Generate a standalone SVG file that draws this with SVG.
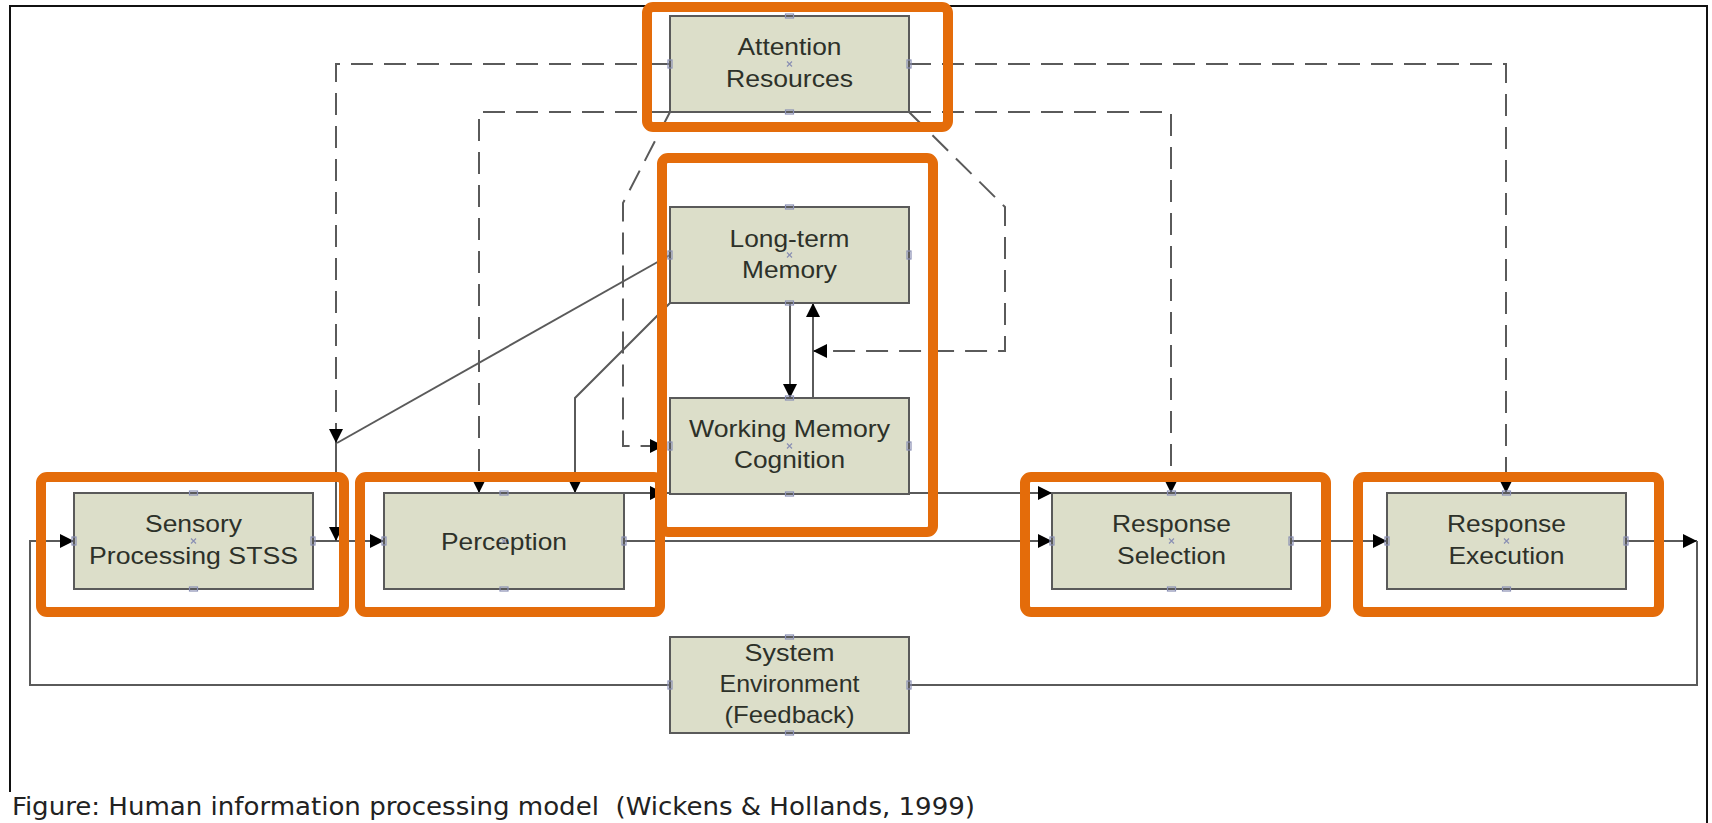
<svg xmlns="http://www.w3.org/2000/svg" width="1712" height="823" viewBox="0 0 1712 823">
<style>
.bg{fill:#ffffff}
.frame{stroke:#111;stroke-width:2;fill:none}
.box{fill:#dcdec9;stroke:#5a5a5a;stroke-width:2}
.lbl{font-family:"Liberation Sans",Arial,sans-serif;font-size:24px;fill:#2d3129;text-anchor:middle}
.solid{fill:none;stroke:#5a5a5a;stroke-width:2}
.dash{fill:none;stroke:#5a5a5a;stroke-width:2;stroke-dasharray:22 11}
.hl{fill:none;stroke:#e46c0a;stroke-width:10}
.pt{stroke:#8a90b4;stroke-width:1.2;fill:none}
.cap{font-family:"DejaVu Sans Condensed","DejaVu Sans",sans-serif;font-size:24px;fill:#222;white-space:pre}
</style>
<defs>
<marker id="arr" markerUnits="userSpaceOnUse" markerWidth="16" markerHeight="14" refX="14" refY="7" orient="auto">
<path d="M0,0 L14,7 L0,14 z" fill="#000"/>
</marker>
<g id="cx"><path class="pt" d="M-2.5,-2.5 L2.5,2.5 M-2.5,2.5 L2.5,-2.5"/></g>
<g id="hp"><rect class="pt" x="-4" y="-2" width="8" height="4"/></g>
<g id="vp"><rect class="pt" x="-2" y="-4" width="4" height="8"/></g>
</defs>
<rect class="bg" x="0" y="0" width="1712" height="823"/>
<path class="frame" d="M10,792 V6 H1707 V823"/>

<g id="connectors">
<path class="solid" d="M1626,541 H1697" marker-end="url(#arr)"/>
<path class="solid" d="M1697,541 V685 H909"/>
<path class="solid" d="M670,685 H30 V541 H74" marker-end="url(#arr)"/>
<path class="solid" d="M313,541 H384" marker-end="url(#arr)"/>
<path class="solid" d="M336,443 V541" marker-end="url(#arr)"/>
<path class="solid" d="M670,255 L337,443"/>
<path class="solid" d="M670,303 L575,398 V493" marker-end="url(#arr)"/>
<path class="solid" d="M624,493 H670"/>
<path class="solid" d="M624,493 H664" marker-end="url(#arr)"/>
<path class="solid" d="M909,493 H1052" marker-end="url(#arr)"/>
<path class="solid" d="M624,541 H1052" marker-end="url(#arr)"/>
<path class="solid" d="M1291,541 H1387" marker-end="url(#arr)"/>
<path class="solid" d="M790,303 V398" marker-end="url(#arr)"/>
<path class="solid" d="M813,398 V303" marker-end="url(#arr)"/>
<path class="dash" d="M670,64 H336 V443" marker-end="url(#arr)"/>
<path class="dash" d="M670,112 H479 V493" marker-end="url(#arr)"/>
<path class="dash" d="M670,112 L623,203 V446 H664" marker-end="url(#arr)"/>
<path class="dash" d="M909,112 L1005,207 V351 H813" marker-end="url(#arr)"/>
<path class="dash" d="M909,112 H1171 V493" marker-end="url(#arr)"/>
<path class="dash" d="M909,64 H1506 V493" marker-end="url(#arr)"/>
</g>

<g id="attention">
<rect class="box" x="670" y="16" width="239" height="96"/>
<text class="lbl" x="789.5" y="55" textLength="104" lengthAdjust="spacingAndGlyphs">Attention</text>
<text class="lbl" x="789.5" y="87" textLength="127" lengthAdjust="spacingAndGlyphs">Resources</text>
<use href="#cx" x="789.5" y="64"/><use href="#hp" x="789.5" y="16"/><use href="#hp" x="789.5" y="112"/><use href="#vp" x="670" y="64"/><use href="#vp" x="909" y="64"/>
</g>

<g id="longterm">
<rect class="box" x="670" y="207" width="239" height="96"/>
<text class="lbl" x="789.5" y="247" textLength="120" lengthAdjust="spacingAndGlyphs">Long-term</text>
<text class="lbl" x="789.5" y="278" textLength="95" lengthAdjust="spacingAndGlyphs">Memory</text>
<use href="#cx" x="789.5" y="255"/><use href="#hp" x="789.5" y="207"/><use href="#hp" x="789.5" y="303"/><use href="#vp" x="670" y="255"/><use href="#vp" x="909" y="255"/>
</g>

<g id="working">
<rect class="box" x="670" y="398" width="239" height="96"/>
<text class="lbl" x="789.5" y="437" textLength="201" lengthAdjust="spacingAndGlyphs">Working Memory</text>
<text class="lbl" x="789.5" y="468" textLength="111" lengthAdjust="spacingAndGlyphs">Cognition</text>
<use href="#cx" x="789.5" y="446"/><use href="#hp" x="789.5" y="398"/><use href="#hp" x="789.5" y="494"/><use href="#vp" x="670" y="446"/><use href="#vp" x="909" y="446"/>
</g>

<g id="sensory">
<rect class="box" x="74" y="493" width="239" height="96"/>
<text class="lbl" x="193.5" y="532" textLength="97" lengthAdjust="spacingAndGlyphs">Sensory</text>
<text class="lbl" x="193.5" y="564" textLength="209" lengthAdjust="spacingAndGlyphs">Processing STSS</text>
<use href="#cx" x="193.5" y="541"/><use href="#hp" x="193.5" y="493"/><use href="#hp" x="193.5" y="589"/><use href="#vp" x="74" y="541"/><use href="#vp" x="313" y="541"/>
</g>

<g id="perception">
<rect class="box" x="384" y="493" width="240" height="96"/>
<text class="lbl" x="504" y="550" textLength="126" lengthAdjust="spacingAndGlyphs">Perception</text>
<use href="#cx" x="504" y="541"/><use href="#hp" x="504" y="493"/><use href="#hp" x="504" y="589"/><use href="#vp" x="384" y="541"/><use href="#vp" x="624" y="541"/>
</g>

<g id="selection">
<rect class="box" x="1052" y="493" width="239" height="96"/>
<text class="lbl" x="1171.5" y="532" textLength="119" lengthAdjust="spacingAndGlyphs">Response</text>
<text class="lbl" x="1171.5" y="564" textLength="109" lengthAdjust="spacingAndGlyphs">Selection</text>
<use href="#cx" x="1171.5" y="541"/><use href="#hp" x="1171.5" y="493"/><use href="#hp" x="1171.5" y="589"/><use href="#vp" x="1052" y="541"/><use href="#vp" x="1291" y="541"/>
</g>

<g id="execution">
<rect class="box" x="1387" y="493" width="239" height="96"/>
<text class="lbl" x="1506.5" y="532" textLength="119" lengthAdjust="spacingAndGlyphs">Response</text>
<text class="lbl" x="1506.5" y="564" textLength="116" lengthAdjust="spacingAndGlyphs">Execution</text>
<use href="#cx" x="1506.5" y="541"/><use href="#hp" x="1506.5" y="493"/><use href="#hp" x="1506.5" y="589"/><use href="#vp" x="1387" y="541"/><use href="#vp" x="1626" y="541"/>
</g>

<g id="system">
<rect class="box" x="670" y="637" width="239" height="96"/>
<text class="lbl" x="789.5" y="661" textLength="90" lengthAdjust="spacingAndGlyphs">System</text>
<text class="lbl" x="789.5" y="692" textLength="140" lengthAdjust="spacingAndGlyphs">Environment</text>
<text class="lbl" x="789.5" y="723" textLength="130" lengthAdjust="spacingAndGlyphs">(Feedback)</text>
<use href="#hp" x="789.5" y="637"/><use href="#hp" x="789.5" y="733"/><use href="#vp" x="670" y="685"/><use href="#vp" x="909" y="685"/>
</g>

<g id="highlights">
<rect class="hl" x="647" y="7" width="301" height="120" rx="6"/>
<rect class="hl" x="662" y="158" width="271" height="374" rx="6"/>
<rect class="hl" x="41" y="477" width="303" height="135" rx="6"/>
<rect class="hl" x="360" y="477" width="300" height="135" rx="6"/>
<rect class="hl" x="1025" y="477" width="301" height="135" rx="6"/>
<rect class="hl" x="1358" y="477" width="301" height="135" rx="6"/>
</g>

<text class="cap" x="12" y="815" textLength="963" lengthAdjust="spacingAndGlyphs">Figure: Human information processing model  (Wickens &amp; Hollands, 1999)</text>
</svg>
